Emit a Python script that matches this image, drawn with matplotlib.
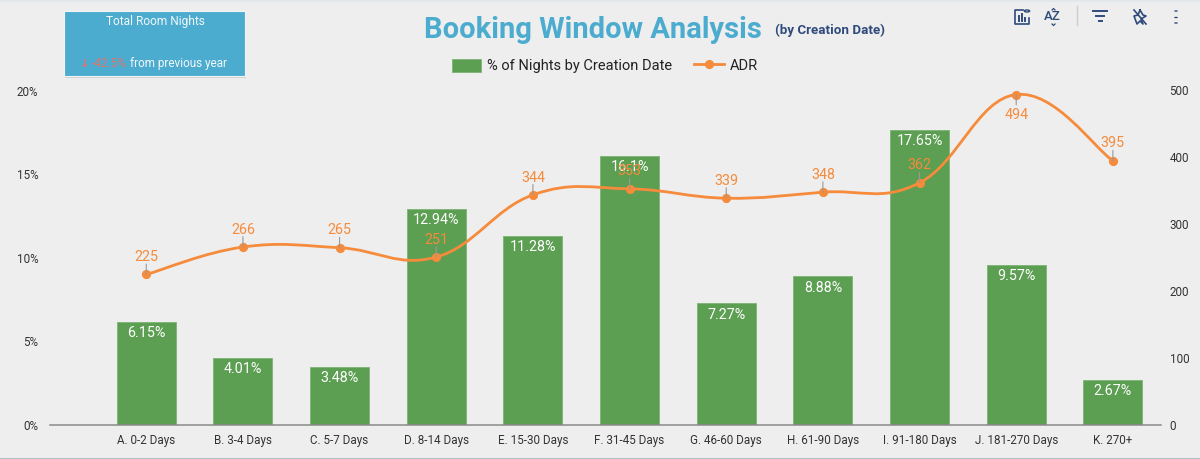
import numpy as np
import matplotlib
matplotlib.use("Agg")
import matplotlib.pyplot as plt
from matplotlib.lines import Line2D
from matplotlib.patches import Patch, PathPatch, Rectangle, Circle
from matplotlib.path import Path

plt.rcParams['font.family'] = ['Roboto', 'DejaVu Sans']

W, H = 1200, 459

categories = ['A. 0-2 Days', 'B. 3-4 Days', 'C. 5-7 Days', 'D. 8-14 Days', 'E. 15-30 Days',
              'F. 31-45 Days', 'G. 46-60 Days', 'H. 61-90 Days', 'I. 91-180 Days',
              'J. 181-270 Days', 'K. 270+']
pct_nights = [6.15, 4.01, 3.48, 12.94, 11.28, 16.1, 7.27, 8.88, 17.65, 9.57, 2.67]
pct_labels = ['6.15%', '4.01%', '3.48%', '12.94%', '11.28%', '16.1%', '7.27%', '8.88%',
              '17.65%', '9.57%', '2.67%']
adr = [225, 266, 265, 251, 344, 353, 339, 348, 362, 494, 395]
pct_ticks = [0, 5, 10, 15, 20]
adr_ticks = [0, 100, 200, 300, 400, 500]

BG = '#EEEEEE'
GREEN = '#5C9E52'
ORANGE = '#F58B3B'
BLUE = '#4BACD0'
NAVY = '#2F4B7C'


def px(x, y):
    # pixel position in the reference -> figure fraction
    return x / W, 1 - y / H


def smooth_path(xs, ys, k=0.2):
    # catmull-rom style bezier through the points, like the smoothed line in the source
    verts = [(xs[0], ys[0])]
    codes = [Path.MOVETO]
    n = len(xs)
    for i in range(n - 1):
        a = max(i - 1, 0)
        b = min(i + 2, n - 1)
        verts.append((xs[i] + (xs[i + 1] - xs[a]) * k, ys[i] + (ys[i + 1] - ys[a]) * k))
        verts.append((xs[i + 1] - (xs[b] - xs[i]) * k, ys[i + 1] - (ys[b] - ys[i]) * k))
        verts.append((xs[i + 1], ys[i + 1]))
        codes += [Path.CURVE4] * 3
    return Path(verts, codes)


fig = plt.figure(figsize=(W / 100, H / 100), dpi=100, facecolor=BG)
left, _ = px(49.6, 0)
right, _ = px(1161.2, 0)
_, top = px(0, 90.5)
_, bottom = px(0, 425)
ax = fig.add_axes([left, bottom, right - left, top - bottom], facecolor='none')
ax2 = ax.twinx()

x = np.arange(len(categories))
ax.bar(x, pct_nights, width=0.61, color=GREEN, edgecolor='#7DB473', linewidth=0.6)
ax.set_xlim(-1, 10.5)
ax.set_ylim(0, 20)
ax.set_yticks(pct_ticks)
ax.set_yticklabels([f'{t}%' for t in pct_ticks])
ax.set_xticks(x)
ax.set_xticklabels(categories)
ax.tick_params(axis='both', length=0, labelsize=8.4, labelcolor='#333333')
ax.tick_params(axis='y', pad=8)
ax.tick_params(axis='x', pad=6.5)
for s in ['top', 'left', 'right']:
    ax.spines[s].set_visible(False)
ax.spines['bottom'].set_color('#8A8A8A')
ax.spines['bottom'].set_linewidth(1.1)

for xi, v, lab in zip(x, pct_nights, pct_labels):
    ax.annotate(lab, (xi, v), xytext=(0, -8), textcoords='offset points', ha='center', va='center',
                color='white', fontsize=10.3)

ax2.set_ylim(0, 500)
ax2.set_yticks(adr_ticks)
ax2.tick_params(axis='y', length=0, labelsize=8.4, labelcolor='#333333', pad=6)
for s in ax2.spines.values():
    s.set_visible(False)
ax2.add_patch(PathPatch(smooth_path(x, adr), fill=False, edgecolor=ORANGE, linewidth=2.0,
                        capstyle='round'))
ax2.plot(x, adr, linestyle='none', marker='o', markersize=5.6, color=ORANGE)

for xi, v in zip(x, adr):
    # the peak has its label under the point
    sign = -1 if v == max(adr) else 1
    offset = 14.5 if sign < 0 else 12.5
    ax2.annotate('', (xi, v), xytext=(0, sign * 7.5), textcoords='offset points',
                 arrowprops=dict(arrowstyle='-', color='#999999', lw=0.8, shrinkA=0, shrinkB=0))
    ax2.annotate(str(v), (xi, v), xytext=(0, sign * offset), textcoords='offset points', ha='center',
                 va='center', color=ORANGE, fontsize=10.3)

# title
tx, ty = px(593, 30)
fig.text(tx, ty, 'Booking Window Analysis', ha='center', va='center', color=BLUE, fontsize=21,
         fontweight='bold')
tx, ty = px(830, 30)
fig.text(tx, ty, '(by Creation Date)', ha='center', va='center', color=NAVY, fontsize=9.6,
         fontweight='bold')

# legend
handles = [Patch(facecolor=GREEN, edgecolor='#7DB473', linewidth=0.6),
           Line2D([], [], color=ORANGE, linewidth=2.0, marker='o', markersize=5.6)]
fig.legend(handles, ['% of Nights by Creation Date', 'ADR'], ncol=2, frameon=False, fontsize=10.5,
           loc='center', bbox_to_anchor=px(605, 66), handlelength=2.0, handleheight=1.0,
           handletextpad=0.45, columnspacing=1.5, labelcolor='#222222')

# scorecard in the corner
bx, by = px(64, 76)
fig.add_artist(Rectangle(px(65, 78), 181 / W, 65 / H, transform=fig.transFigure, facecolor='#CFCFCF',
                         edgecolor='none'))
fig.add_artist(Rectangle((bx, by), 181 / W, 65 / H, transform=fig.transFigure, facecolor=BLUE,
                         edgecolor='#F4F4F4', linewidth=0.8))
tx, ty = px(155, 22)
fig.text(tx, ty, 'Total Room Nights', ha='center', va='center', color='#F2F7FA', fontsize=8.6)
tx, ty = px(127, 63.5)
fig.text(tx, ty, '-42.5%', ha='right', va='center', color='#E0766D', fontsize=8.6)
tx, ty = px(85, 64)
fig.text(tx, ty, '↓', ha='center', va='center', color='#E0766D', fontsize=8, fontweight='bold')
tx, ty = px(130, 63.5)
fig.text(tx, ty, 'from previous year', ha='left', va='center', color='#F2F7FA', fontsize=8.5)


# toolbar icons, plain line drawings
def icon_line(xs, ys, lw=1.2, color=NAVY):
    pts = [px(a, b) for a, b in zip(xs, ys)]
    fig.add_artist(Line2D([p[0] for p in pts], [p[1] for p in pts], color=color, linewidth=lw,
                          transform=fig.transFigure))


icon_line([1023, 1015, 1015, 1029, 1029], [10, 10, 24, 24, 18])
icon_line([1019, 1019], [21, 16], lw=1.4)
icon_line([1022, 1022], [21, 14], lw=1.4)
icon_line([1025, 1025], [21, 18], lw=1.4)
fig.add_artist(Circle(px(1027, 11), 0.0022, transform=fig.transFigure, facecolor='none',
                      edgecolor=NAVY, linewidth=1.0))
tx, ty = px(1052.5, 17)
fig.text(tx, ty, 'AZ', ha='center', va='center', color=NAVY, fontsize=9.5, fontweight='medium')
icon_line([1052, 1053.5, 1055], [10, 8.5, 10], lw=0.9)
icon_line([1052, 1053.5, 1055], [24, 25.5, 24], lw=0.9)
icon_line([1077, 1077], [6, 25], lw=1.0, color='#C8CDD3')
icon_line([1093, 1107], [11, 11], lw=1.4)
icon_line([1096, 1104], [16, 16], lw=1.4)
icon_line([1098.5, 1101.5], [20.5, 20.5], lw=1.4)
icon_line([1140, 1143, 1146, 1141, 1143, 1140, 1137, 1134, 1138, 1140], [10, 15, 16, 19, 24, 21, 24, 16, 15, 10], lw=1.2)
icon_line([1134, 1146], [10, 24], lw=1.2)
for dot_y in [11, 17.5, 23]:
    fig.add_artist(Circle(px(1176, dot_y), 0.0016, transform=fig.transFigure, facecolor=NAVY,
                          edgecolor='none'))

# thin strips at the picture edges
icon_line([0, 1200], [0.5, 0.5], lw=1.2, color='#E1E6EA')
icon_line([0, 1200], [458.5, 458.5], lw=1.2, color='#9FB6BA')

fig.savefig('out.png', dpi=100, facecolor=BG)
